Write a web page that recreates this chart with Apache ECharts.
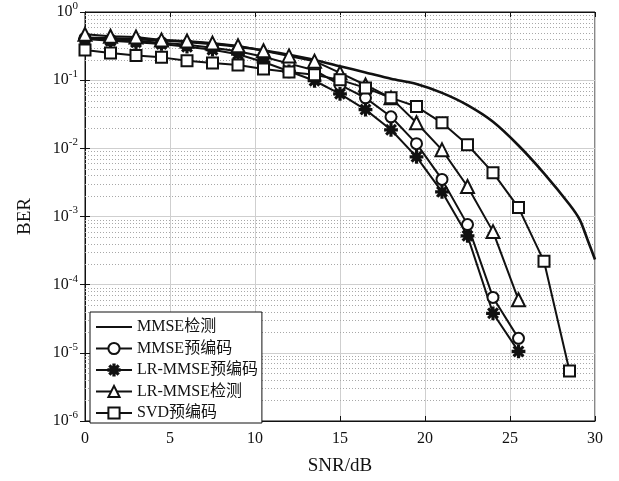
<!DOCTYPE html>
<html>
<head>
<meta charset="utf-8">
<script src="https://cdn.jsdelivr.net/npm/echarts@6/dist/echarts.min.js"></script>
<style>
  html, body { margin: 0; padding: 0; background: #fff; }
  #chart { width: 619px; height: 481px; }
</style>
</head>
<body>
<div id="chart"></div>
<script>
// SNR points (dB)
const snrDet = [0, 1.5, 3, 4.5, 6, 7.5, 9, 10.5, 12, 13.5, 15, 16.5, 18, 19.5, 21, 22.5, 24, 25.5, 27, 28.5, 29.1, 29.6, 30];
const snrMarked = [0, 1.5, 3, 4.5, 6, 7.5, 9, 10.5, 12, 13.5, 15, 16.5, 18, 19.5, 21, 22.5, 24, 25.5, 27, 28.5];

// BER values
const berMmseDet = [0.42, 0.41, 0.40, 0.385, 0.365, 0.34, 0.31, 0.275, 0.235, 0.198, 0.16, 0.13, 0.105, 0.088, 0.065, 0.043, 0.0245, 0.011, 0.0043, 0.0015, 0.0009, 0.00043, 0.000234];
const berMmsePre = [0.41, 0.39, 0.375, 0.355, 0.33, 0.30, 0.265, 0.22, 0.175, 0.14, 0.085, 0.055, 0.029, 0.0117, 0.0035, 0.00076, 0.000065, 0.0000163];
const berLrPre = [0.40, 0.38, 0.36, 0.34, 0.31, 0.28, 0.24, 0.185, 0.135, 0.098, 0.063, 0.037, 0.0187, 0.0075, 0.0023, 0.00052, 0.000038, 0.0000105];
const berLrDet = [0.47, 0.44, 0.43, 0.39, 0.376, 0.35, 0.32, 0.27, 0.227, 0.19, 0.128, 0.085, 0.055, 0.0237, 0.0095, 0.00275, 0.0006, 0.00006];
const berSvd = [0.278, 0.25, 0.231, 0.216, 0.192, 0.179, 0.167, 0.146, 0.132, 0.12, 0.101, 0.077, 0.055, 0.041, 0.0237, 0.0113, 0.0044, 0.00135, 0.00022, 0.0000054];

const names = ['MMSE检测', 'MMSE预编码', 'LR-MMSE预编码', 'LR-MMSE检测', 'SVD预编码'];

const zip = (xs, ys) => ys.map((y, i) => [xs[i], y]);

const asterisk = 'path://M-0.9,-8L0.9,-8L0.9,8L-0.9,8Z' +
  'M-8,-0.9L8,-0.9L8,0.9L-8,0.9Z' +
  'M-5.02,-6.29L6.29,5.02L5.02,6.29L-6.29,-5.02Z' +
  'M-6.29,5.02L5.02,-6.29L6.29,-5.02L-5.02,6.29Z';

const ink = '#111';
const serif = 'Liberation Serif, Noto Sans CJK SC, serif';

const chart = echarts.init(document.getElementById('chart'));

const lineSeries = (name, data, symbol, size) => ({
  name,
  type: 'line',
  data,
  symbol,
  symbolSize: size,
  showAllSymbol: true,
  lineStyle: { color: ink, width: 2 },
  itemStyle: { color: ink, borderColor: ink, borderWidth: 1.8 },
  emphasis: { disabled: true },
  animation: false,
  z: 3
});

const logLabel = (v) => {
  const e = Math.round(Math.log10(v));
  return '{b|10}{s|' + e + '}';
};

chart.setOption({
  backgroundColor: '#fff',
  animation: false,
  grid: {
    left: 85, right: 24, top: 12, bottom: 59,
    show: true, borderColor: ink, borderWidth: 1
  },
  legend: {
    left: 90,
    top: 312,
    orient: 'vertical',
    itemWidth: 36,
    itemHeight: 14,
    itemGap: 5.5,
    padding: [7, 4, 2, 5],
    backgroundColor: '#fff',
    borderColor: ink,
    borderWidth: 1,
    data: [
      { name: names[0], itemStyle: { opacity: 0 } },
      names[1], names[2], names[3], names[4]
    ],
    textStyle: { fontSize: 16, color: ink, fontFamily: serif }
  },
  xAxis: [{
    type: 'value',
    min: 0, max: 30, interval: 5,
    name: 'SNR/dB',
    nameLocation: 'middle',
    nameGap: 36,
    nameTextStyle: { fontSize: 19, color: ink, fontFamily: serif },
    axisLine: { lineStyle: { color: ink } },
    axisTick: { inside: true, length: 5, lineStyle: { color: ink } },
    axisLabel: { fontSize: 16, color: ink, fontFamily: serif, margin: 10 },
    splitLine: { lineStyle: { color: '#cfcfcf', width: 1 } }
  }, {
    type: 'value',
    position: 'top',
    min: 0, max: 30, interval: 5,
    axisLine: { lineStyle: { color: ink } },
    axisTick: { inside: true, length: 5, lineStyle: { color: ink } },
    axisLabel: { show: false },
    splitLine: { show: false }
  }],
  yAxis: [{
    type: 'log',
    logBase: 10,
    min: 1e-6, max: 1,
    splitNumber: 6,
    name: 'BER',
    nameLocation: 'middle',
    nameGap: 50,
    nameTextStyle: { fontSize: 19, color: ink, fontFamily: serif },
    axisLine: { show: true, lineStyle: { color: ink } },
    axisTick: { show: true, inside: true, length: 5, lineStyle: { color: ink } },
    axisLabel: {
      margin: 7,
      color: ink,
      formatter: logLabel,
      rich: {
        b: { fontSize: 16, fontFamily: serif, color: ink },
        s: { fontSize: 11, fontFamily: serif, color: ink, padding: [0, 0, 12, 0] }
      }
    },
    splitLine: { lineStyle: { color: '#cfcfcf', width: 1 } }
  }, {
    type: 'log',
    logBase: 10,
    position: 'right',
    min: 1e-6, max: 1,
    splitNumber: 6,
    axisLine: { show: true, lineStyle: { color: ink } },
    axisTick: { show: true, inside: true, length: 5, lineStyle: { color: ink } },
    axisLabel: { show: false },
    splitLine: { show: false }
  }],
  series: [
    Object.assign(lineSeries(names[0], zip(snrDet, berMmseDet), 'circle', 0), {
      showSymbol: false,
      smooth: 0.3,
      lineStyle: { color: ink, width: 2.6 }
    }),
    lineSeries(names[1], zip(snrMarked, berMmsePre), 'emptyCircle', 11),
    lineSeries(names[2], zip(snrMarked, berLrPre), asterisk, 12),
    lineSeries(names[3], zip(snrMarked, berLrDet), 'emptyTriangle', 13),
    lineSeries(names[4], zip(snrMarked, berSvd), 'emptyRect', 11)
  ]
});

// minor grid lines at 2..9 x 10^k, placed through the axis scale
const x0 = chart.convertToPixel({ xAxisIndex: 0 }, 0);
const x1 = chart.convertToPixel({ xAxisIndex: 0 }, 30);
const minor = [];
for (let e = -6; e < 0; e++) {
  for (let k = 2; k <= 9; k++) {
    const y = Math.round(chart.convertToPixel({ yAxisIndex: 0 }, k * Math.pow(10, e))) + 0.5;
    minor.push({
      type: 'line',
      silent: true,
      z: 1,
      shape: { x1: x0, y1: y, x2: x1, y2: y },
      style: { stroke: '#a8a8a8', lineWidth: 1, lineDash: [1, 2] }
    });
  }
}
chart.setOption({ graphic: minor });
</script>
</body>
</html>
